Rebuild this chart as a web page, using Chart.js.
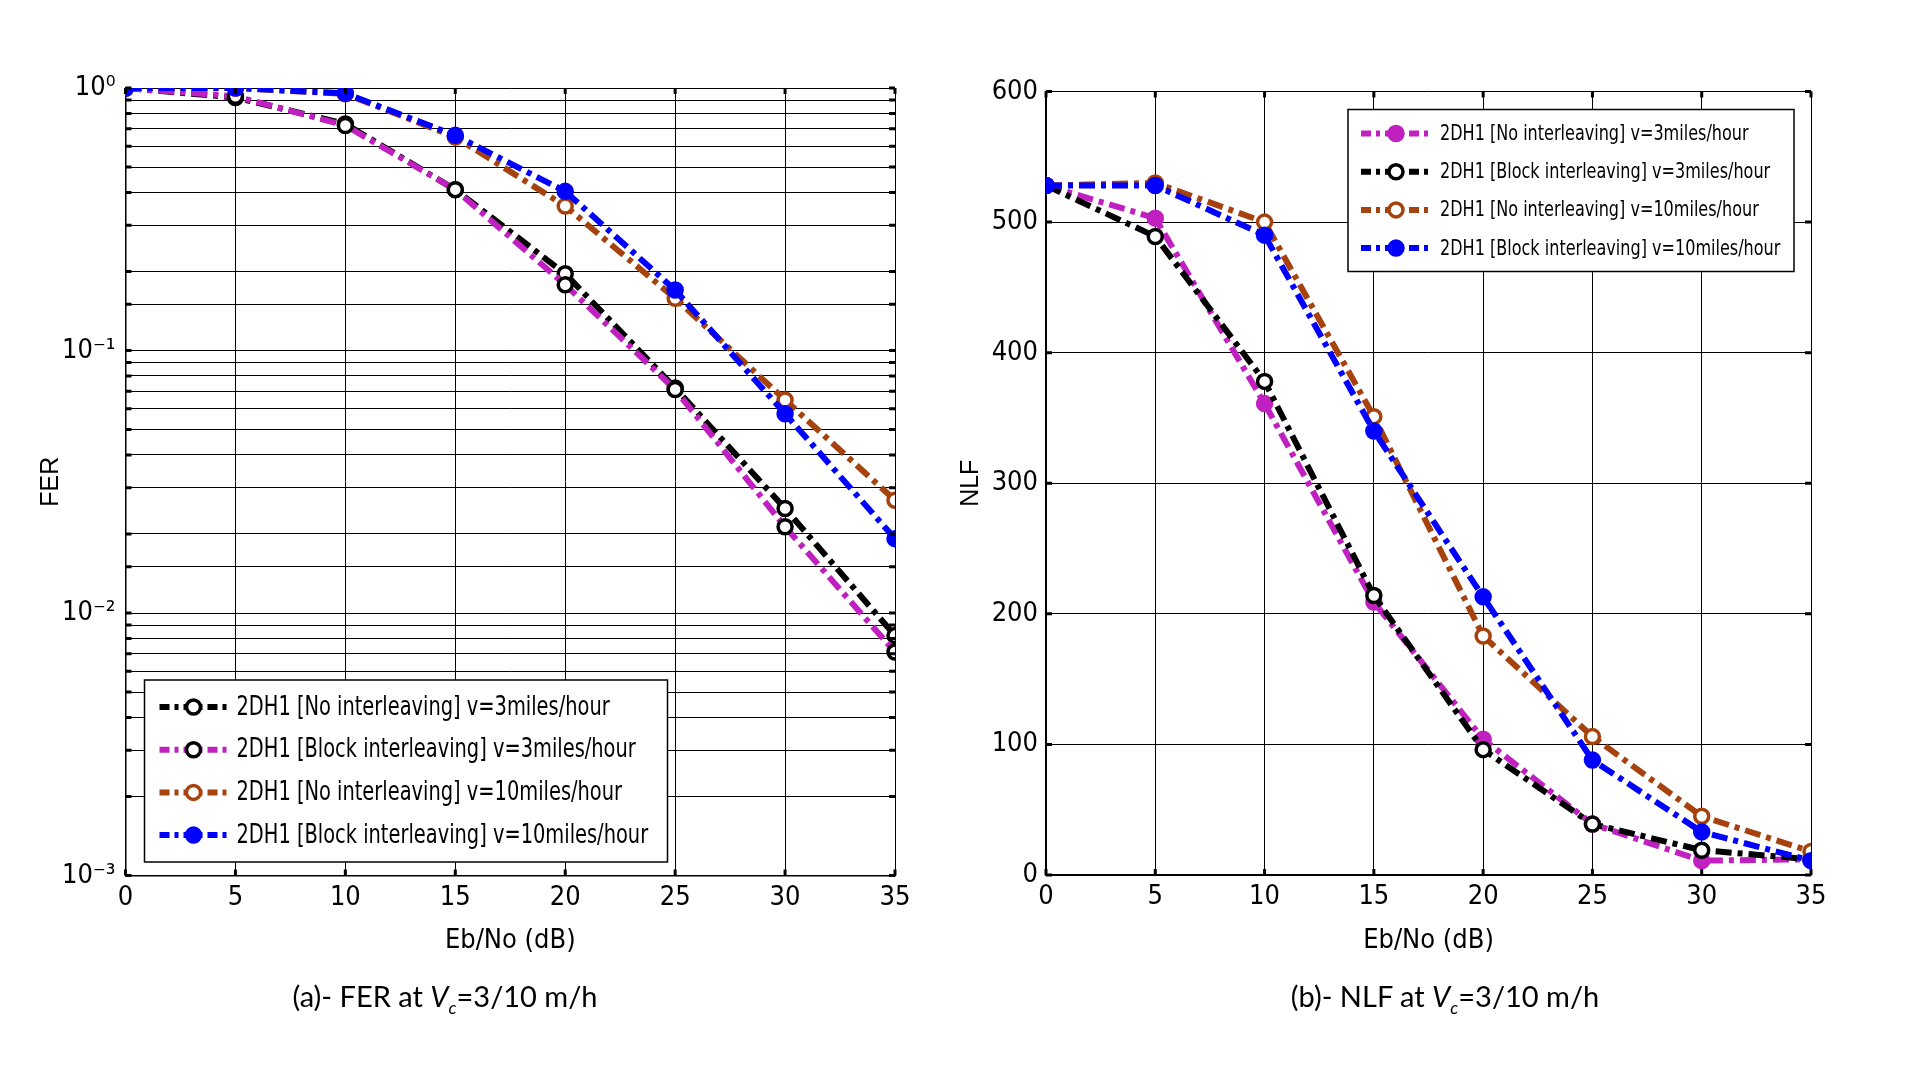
<!DOCTYPE html>
<html>
<head>
<meta charset="utf-8">
<script src="https://cdn.jsdelivr.net/npm/chart.js@4.4.0/dist/chart.umd.min.js"></script>
<style>
  html, body { margin: 0; padding: 0; background: #fff; }
  body { width: 1914px; height: 1079px; position: relative; overflow: hidden; }
  .box { position: absolute; }
  .cap {
    position: absolute; transform: translate(-50%, -50%); white-space: nowrap;
    font-family: Lato, 'Open Sans', sans-serif; font-size: 29px; color: #000;
  }
  .cap sub { font-size: 60%; }
</style>
</head>
<body>
<div class="box" style="left:0;top:40px;width:920px;height:960px"><canvas id="ferChart"></canvas></div>
<div class="box" style="left:940px;top:40px;width:900px;height:960px"><canvas id="nlfChart"></canvas></div>
<div class="cap" style="left:445px;top:998px">(a)- FER at <i>V</i><sub><i>c</i></sub>=3/10 m/h</div>
<div class="cap" style="left:1445px;top:998px">(b)- NLF at <i>V</i><sub><i>c</i></sub>=3/10 m/h</div>

<script>
// Eb/No sweep (dB), shared by both panels
const ebNo = [0, 5, 10, 15, 20, 25, 30, 35];

// (a) frame error rate
const ferNoInt3 = [1.0, 0.92, 0.73, 0.41, 0.196, 0.072, 0.025, 0.0082];
const ferBlock3 = [1.0, 0.93, 0.72, 0.41, 0.178, 0.071, 0.0213, 0.0071];
const ferNoInt10 = [1.0, 1.0, 0.95, 0.65, 0.355, 0.158, 0.0648, 0.0269];
const ferBlock10 = [1.0, 1.0, 0.954, 0.66, 0.404, 0.17, 0.0574, 0.0192];

// (b) NLF
const nlfNoInt3 = [528, 503, 361, 209, 104, 39, 11, 12];
const nlfBlock3 = [528, 489, 378, 214, 96, 39, 19, 12];
const nlfNoInt10 = [528, 530, 500, 351, 183, 106, 45, 18];
const nlfBlock10 = [528, 528, 490, 340, 213, 88, 33, 11];

const seriesNames = [
  '2DH1 [No interleaving] v=3miles/hour',
  '2DH1 [Block interleaving] v=3miles/hour',
  '2DH1 [No interleaving] v=10miles/hour',
  '2DH1 [Block interleaving] v=10miles/hour',
];

// log-axis decade labels, from 10^-3 up to 10^0
const ferDecadeLabels = ['10\u207B\u00B3', '10\u207B\u00B2', '10\u207B\u00B9', '10\u2070'];

const BLACK = '#000000';
const MAGENTA = '#C020C0';
const BROWN = '#A5420E';
const BLUE = '#0000FF';

const narrow = "'Liberation Sans Narrow', 'DejaVu Sans Condensed', 'Liberation Sans', sans-serif";
const tickFont = { family: narrow, size: 27 };

function series(label, values, color, markColor, filled, order) {
  return {
    label: label,
    data: ebNo.map((x, i) => ({ x: x, y: values[i] })),
    borderColor: color,
    borderWidth: 6,
    borderDash: [16, 6, 5, 6],
    pointRadius: 7,
    pointBorderWidth: 3.5,
    pointBorderColor: markColor,
    pointBackgroundColor: filled ? markColor : '#fff',
    showLine: true,
    fill: false,
    tension: 0,
    order: order,
  };
}

// MATLAB style ticks pointing into the box
const innerTicks = {
  id: 'innerTicks',
  afterDatasetsDraw(chart) {
    const { ctx, chartArea: a, scales } = chart;
    const len = 6;
    ctx.save();
    ctx.strokeStyle = '#000';
    ctx.lineWidth = 3;
    ctx.beginPath();
    scales.x.ticks.forEach(t => {
      const px = scales.x.getPixelForValue(t.value);
      ctx.moveTo(px, a.bottom); ctx.lineTo(px, a.bottom - len);
      ctx.moveTo(px, a.top); ctx.lineTo(px, a.top + len);
    });
    scales.y.ticks.forEach(t => {
      const py = scales.y.getPixelForValue(t.value);
      ctx.moveTo(a.left, py); ctx.lineTo(a.left + len, py);
      ctx.moveTo(a.right, py); ctx.lineTo(a.right - len, py);
    });
    ctx.stroke();
    ctx.restore();
  }
};

// boxed legend inside the plot, with dash-dot sample and marker
const boxLegend = {
  id: 'boxLegend',
  afterDraw(chart, args, o) {
    const { ctx, chartArea: a } = chart;
    const x0 = a.left + o.dx;
    const y0 = o.fromBottom ? a.bottom - o.dy - o.h : a.top + o.dy;
    ctx.save();
    ctx.fillStyle = '#fff';
    ctx.fillRect(x0, y0, o.w, o.h);
    ctx.strokeStyle = '#000';
    ctx.lineWidth = 1.5;
    ctx.strokeRect(x0, y0, o.w, o.h);
    chart.data.datasets.forEach((ds, i) => {
      const y = y0 + o.rowTop + i * o.rowGap;
      ctx.setLineDash([10, 5, 4, 5]);
      ctx.strokeStyle = ds.borderColor;
      ctx.lineWidth = ds.borderWidth;
      ctx.beginPath();
      ctx.moveTo(x0 + o.lineX0, y);
      ctx.lineTo(x0 + o.lineX1, y);
      ctx.stroke();
      ctx.setLineDash([]);
      ctx.beginPath();
      ctx.arc(x0 + o.markX, y, ds.pointRadius, 0, Math.PI * 2);
      ctx.fillStyle = ds.pointBackgroundColor;
      ctx.fill();
      ctx.lineWidth = ds.pointBorderWidth;
      ctx.strokeStyle = ds.pointBorderColor;
      ctx.stroke();
      // condensed text, like the MATLAB export
      ctx.save();
      ctx.translate(x0 + o.textX, y + 1);
      ctx.scale(o.squeeze, 1);
      ctx.fillStyle = '#000';
      ctx.font = o.fontSize + 'px ' + narrow;
      ctx.textBaseline = 'middle';
      ctx.fillText(ds.label, 0, 0);
      ctx.restore();
    });
    ctx.restore();
  }
};

function axes(yCfg, yWidth, xHeight) {
  return {
    x: {
      type: 'linear', min: 0, max: 35,
      ticks: { stepSize: 5, color: '#000', font: tickFont, padding: 6, maxRotation: 0 },
      grid: { color: '#000', lineWidth: 1, drawTicks: false },
      border: { color: '#000', width: 1.5 },
      title: { display: true, text: 'Eb/No (dB)', color: '#000', font: tickFont, padding: { top: 0, bottom: 43 } },
      afterFit(s) { s.height = xHeight; },
    },
    y: Object.assign({
      grid: { color: '#000', lineWidth: 1, drawTicks: false },
      border: { color: '#000', width: 1.5 },
      afterFit(s) { s.width = yWidth; },
    }, yCfg),
  };
}

Chart.defaults.animation = false;
Chart.defaults.color = '#000';

new Chart(document.getElementById('ferChart'), {
  type: 'scatter',
  data: {
    datasets: [
      series(seriesNames[0], ferNoInt3, BLACK, BLACK, false, 3),
      series(seriesNames[1], ferBlock3, MAGENTA, BLACK, false, 2),
      series(seriesNames[2], ferNoInt10, BROWN, BROWN, false, 1),
      series(seriesNames[3], ferBlock10, BLUE, BLUE, true, 0),
    ]
  },
  options: {
    responsive: true,
    maintainAspectRatio: false,
    devicePixelRatio: 1,
    layout: { padding: { left: 0, top: 48, right: 25, bottom: 0 } },
    plugins: {
      legend: { display: false },
      tooltip: { enabled: false },
      boxLegend: { dx: 19, dy: 13.5, fromBottom: true, w: 523, h: 182, rowTop: 27, rowGap: 42.7,
                   lineX0: 15, lineX1: 84, markX: 49, textX: 92, fontSize: 26, squeeze: 0.83 },
    },
    scales: axes({
      type: 'logarithmic', min: 0.001, max: 1,
      ticks: {
        autoSkip: false, color: '#000', font: tickFont, padding: 10,
        callback: function (v) {
          const e = Math.log10(v);
          const r = Math.round(e);
          return Math.abs(e - r) < 1e-6 ? ferDecadeLabels[r + 3] : '';
        }
      },
      title: { display: true, text: 'FER', color: '#000', font: { family: "'Liberation Sans', sans-serif", size: 25 }, padding: { top: 36, bottom: 0 } },
    }, 125.5, 124.5),
  },
  plugins: [innerTicks, boxLegend],
});

new Chart(document.getElementById('nlfChart'), {
  type: 'scatter',
  data: {
    datasets: [
      series(seriesNames[0], nlfNoInt3, MAGENTA, MAGENTA, true, 3),
      series(seriesNames[1], nlfBlock3, BLACK, BLACK, false, 2),
      series(seriesNames[2], nlfNoInt10, BROWN, BROWN, false, 1),
      series(seriesNames[3], nlfBlock10, BLUE, BLUE, true, 0),
    ]
  },
  options: {
    responsive: true,
    maintainAspectRatio: false,
    devicePixelRatio: 1,
    layout: { padding: { left: 0, top: 51.5, right: 29, bottom: 0 } },
    plugins: {
      legend: { display: false },
      tooltip: { enabled: false },
      boxLegend: { dx: 302, dy: 18, fromBottom: false, w: 446, h: 162, rowTop: 24, rowGap: 38.2,
                   lineX0: 13, lineX1: 84, markX: 48, textX: 92, fontSize: 21.5, squeeze: 0.83 },
    },
    scales: axes({
      type: 'linear', min: 0, max: 600,
      ticks: { stepSize: 100, color: '#000', font: tickFont, padding: 8 },
      title: { display: true, text: 'NLF', color: '#000', font: { family: "'Liberation Sans', sans-serif", size: 25 }, padding: { top: 16, bottom: 0 } },
    }, 106, 125),
  },
  plugins: [innerTicks, boxLegend],
});
</script>
</body>
</html>
